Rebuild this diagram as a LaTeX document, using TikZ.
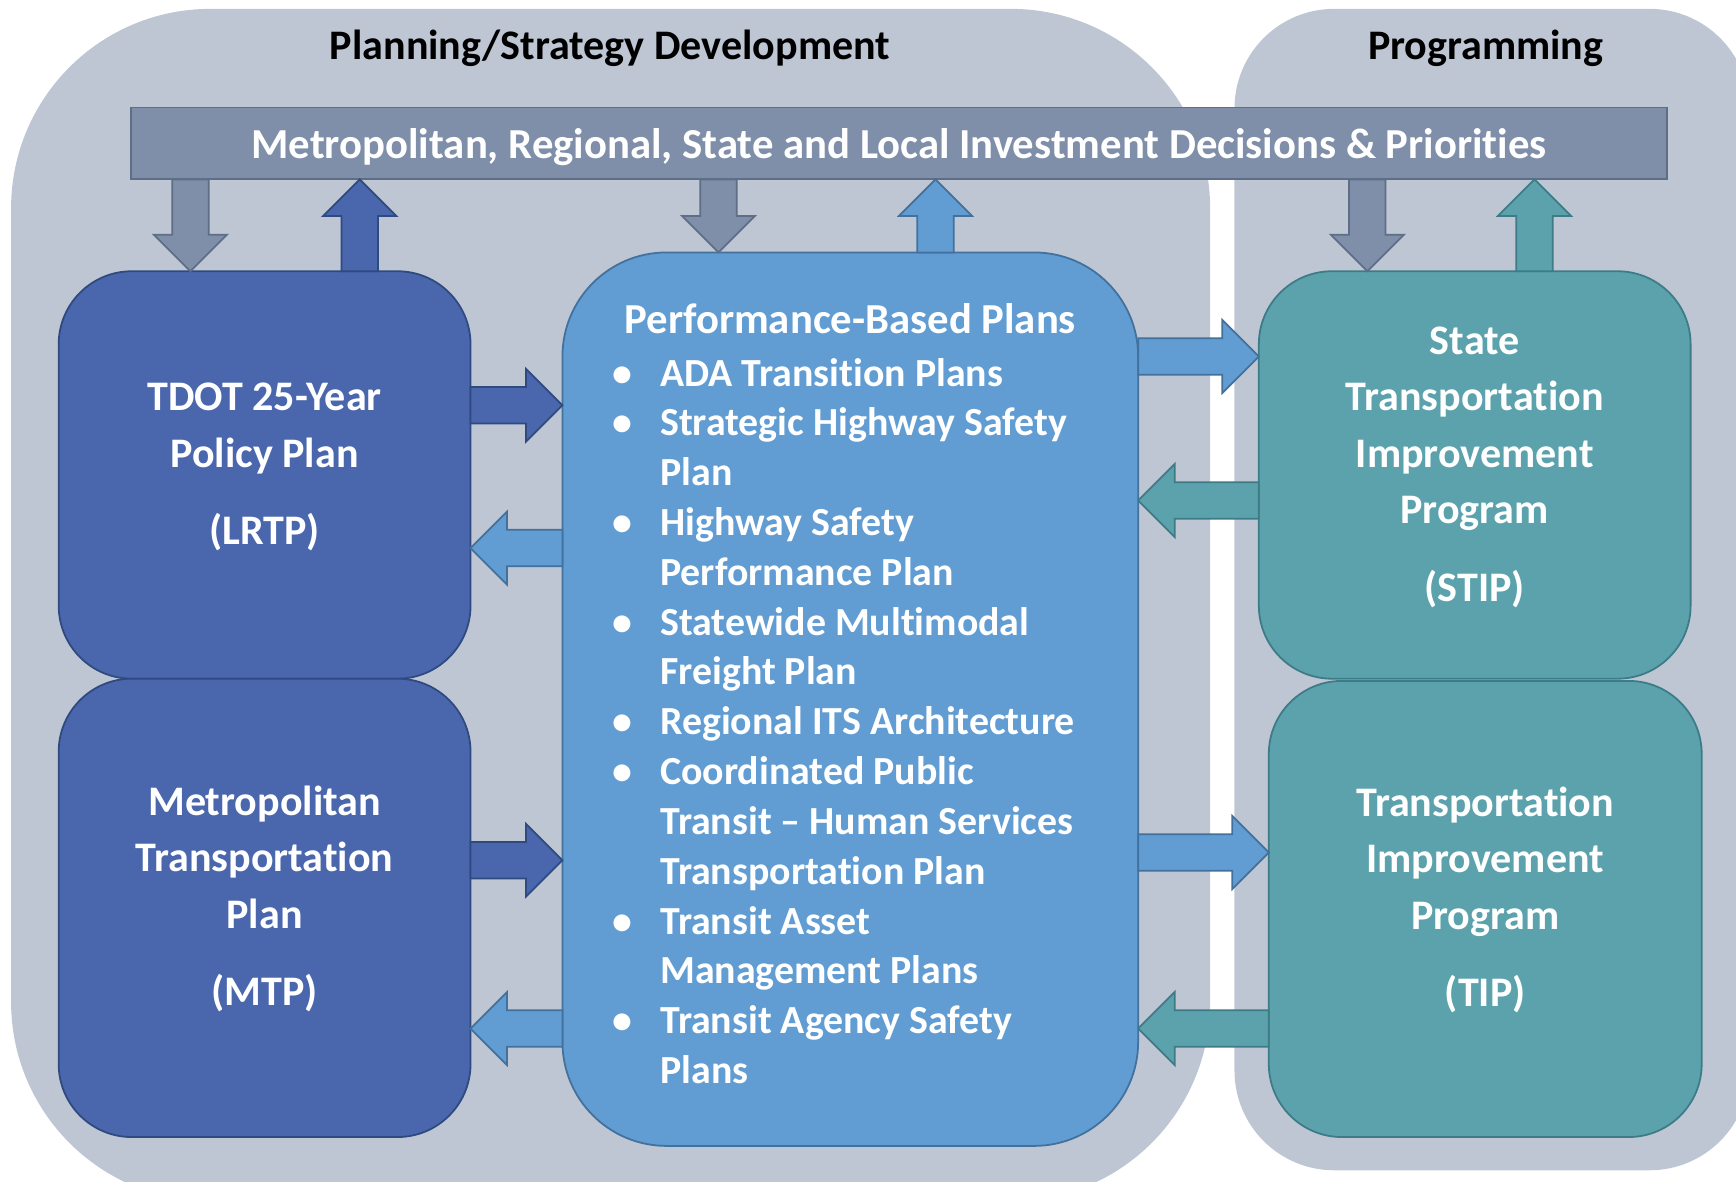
\documentclass[tikz,border=0pt]{standalone}
\usepackage{fontspec}
\setmainfont{Carlito}[Ligatures={TeX,NoCommon}]
\usetikzlibrary{calc}

\definecolor{panelgray}{HTML}{BEC6D4}
\definecolor{bargray}{HTML}{7F8FA9}
\definecolor{barline}{HTML}{5E6E86}
\definecolor{policyblue}{HTML}{4A67AD}
\definecolor{policyline}{HTML}{2F4A7F}
\definecolor{planblue}{HTML}{619DD2}
\definecolor{planline}{HTML}{41719C}
\definecolor{progteal}{HTML}{5BA2AD}
\definecolor{progline}{HTML}{3D7C86}

\tikzset{
  boxtext/.style={text=white, align=center, font=\fontsize{19}{25.5}\selectfont\bfseries},
  policybox/.style={draw=policyline, fill=policyblue, line width=0.8pt, rounded corners=33pt,
    minimum width=186pt, inner sep=0pt, outer sep=0pt},
  progbox/.style={draw=progline, fill=progteal, line width=0.8pt, rounded corners=33pt,
    inner sep=0pt, outer sep=0pt},
  planbox/.style={draw=planline, fill=planblue, line width=0.8pt, rounded corners=47pt,
    minimum width=260pt, minimum height=403.5pt, inner sep=0pt, outer sep=0pt},
  listtext/.style={text=white, align=left, inner sep=0pt, font=\fontsize{18}{22.5}\selectfont\bfseries},
  title/.style={font=\fontsize{19}{22}\selectfont\bfseries},
  grayarrow/.style={fill=bargray, draw=barline, line width=0.8pt},
  darkarrow/.style={fill=policyblue, draw=policyline, line width=0.8pt},
  midarrow/.style={fill=planblue, draw=planline, line width=0.8pt},
  tealarrow/.style={fill=progteal, draw=progline, line width=0.8pt},
}

\newcommand\bul{\makebox[21.5pt][l]{\textbullet}}
\newcommand\ind{\hspace*{21.5pt}}
% block arrow from #2 (tail) to #3 (tip)
\newcommand\blockarrow[3]{%
  \coordinate (hd) at ($#3!16.5pt!#2$);
  \filldraw[#1] ($#2!8.25pt!90:#3$) -- ($(hd)!8.25pt!90:#3$) -- ($(hd)!16.5pt!90:#3$)
    -- #3 -- ($(hd)!16.5pt!-90:#3$) -- ($(hd)!8.25pt!-90:#3$) -- ($#2!8.25pt!-90:#3$) -- cycle;
}

\begin{document}
\begin{tikzpicture}[x=0.5pt, y=-0.5pt]
  \useasboundingbox (0,0) rectangle (1568,1067);
  \clip (0,0) rectangle (1568,1067);

  \fill[panelgray, rounded corners=90pt] (10,8) rectangle (1093,1085);
  \fill[panelgray, rounded corners=45pt] (1115,8) rectangle (1580,1057);
  \node[title] (ptitle) at (551,44) {Planning/Strategy Development};
  \node[title] (gtitle) at (1342,44) {Programming};

  \node[fill=bargray, draw=barline, line width=0.8pt, minimum width=694pt, minimum height=32.5pt,
    inner sep=0pt, outer sep=0pt, text height=17.5pt, text depth=3.9pt, text=white,
    font=\fontsize{19.3}{22}\selectfont\bfseries]
    (bar) at (812,129.5) {Metropolitan, Regional, State and Local Investment Decisions \& Priorities};

  \node[policybox, minimum height=184pt] (lrtp) at (239,429) {};
  \node[policybox, minimum height=207pt] (mtp) at (239,820) {};
  \node[progbox, minimum width=195pt, minimum height=184pt] (stip) at (1332,429) {};
  \node[progbox, minimum width=195.5pt, minimum height=206pt] (tip) at (1341.5,821) {};
  \node[boxtext] (lrtptext) at ($(lrtp)+(0,-7)$) {TDOT 25-Year\\Policy Plan\\[9.5pt](LRTP)};
  \node[boxtext] (mtptext) at ($(mtp)+(0,-8)$) {Metropolitan\\Transportation\\Plan\\[9.5pt](MTP)};
  \node[boxtext] (stiptext) at ($(stip)+(0,-7)$) {State\\Transportation\\Improvement\\Program\\[9.5pt](STIP)};
  \node[boxtext] (tiptext) at ($(tip)+(0,-8)$) {Transportation\\Improvement\\Program\\[9.5pt](TIP)};

  \node[planbox] (plans) at (768,631.5) {};
  \node[listtext, font=\fontsize{19.3}{22.5}\selectfont\bfseries] (phead) at ($(plans.north)+(0,60)$)
    {Performance-Based Plans};
  \node[listtext, anchor=north west] (plist) at ($(plans.north west)+(45,95)$) {%
    \bul ADA Transition Plans\\
    \bul Strategic Highway Safety\\ \ind Plan\\
    \bul Highway Safety\\ \ind Performance Plan\\
    \bul Statewide Multimodal\\ \ind Freight Plan\\
    \bul Regional ITS Architecture\\
    \bul Coordinated Public\\ \ind Transit -- Human Services\\ \ind Transportation Plan\\
    \bul Transit Asset\\ \ind Management Plans\\
    \bul Transit Agency Safety\\ \ind Plans};

  % vertical arrows to and from the bar
  \coordinate (v1) at ($(lrtp.north)+(-67,0)$);
  \coordinate (v2) at ($(lrtp.north)+(86,0)$);
  \coordinate (v3) at ($(plans.north)+(-119,0)$);
  \coordinate (v4) at ($(plans.north)+(77,0)$);
  \coordinate (v5) at ($(stip.north)+(-97,0)$);
  \coordinate (v6) at ($(stip.north)+(54,0)$);
  \blockarrow{grayarrow}{(v1 |- bar.south)}{(v1)}
  \blockarrow{darkarrow}{(v2)}{(v2 |- bar.south)}
  \blockarrow{grayarrow}{(v3 |- bar.south)}{(v3)}
  \blockarrow{midarrow}{(v4)}{(v4 |- bar.south)}
  \blockarrow{grayarrow}{(v5 |- bar.south)}{(v5)}
  \blockarrow{tealarrow}{(v6)}{(v6 |- bar.south)}

  % horizontal arrows between the boxes
  \coordinate (h1) at ($(lrtp.east)+(0,-63)$);
  \coordinate (h2) at ($(lrtp.east)+(0,66)$);
  \coordinate (h3) at ($(mtp.east)+(0,-43)$);
  \coordinate (h4) at ($(mtp.east)+(0,109)$);
  \coordinate (h5) at ($(stip.west)+(0,-107)$);
  \coordinate (h6) at ($(stip.west)+(0,23)$);
  \coordinate (h7) at ($(tip.west)+(0,-51)$);
  \coordinate (h8) at ($(tip.west)+(0,108)$);
  \blockarrow{darkarrow}{(h1)}{(h1 -| plans.west)}
  \blockarrow{midarrow}{(h2 -| plans.west)}{(h2)}
  \blockarrow{darkarrow}{(h3)}{(h3 -| plans.west)}
  \blockarrow{midarrow}{(h4 -| plans.west)}{(h4)}
  \blockarrow{midarrow}{(h5 -| plans.east)}{(h5)}
  \blockarrow{tealarrow}{(h6)}{(h6 -| plans.east)}
  \blockarrow{midarrow}{(h7 -| plans.east)}{(h7)}
  \blockarrow{tealarrow}{(h8)}{(h8 -| plans.east)}
\end{tikzpicture}
\end{document}
